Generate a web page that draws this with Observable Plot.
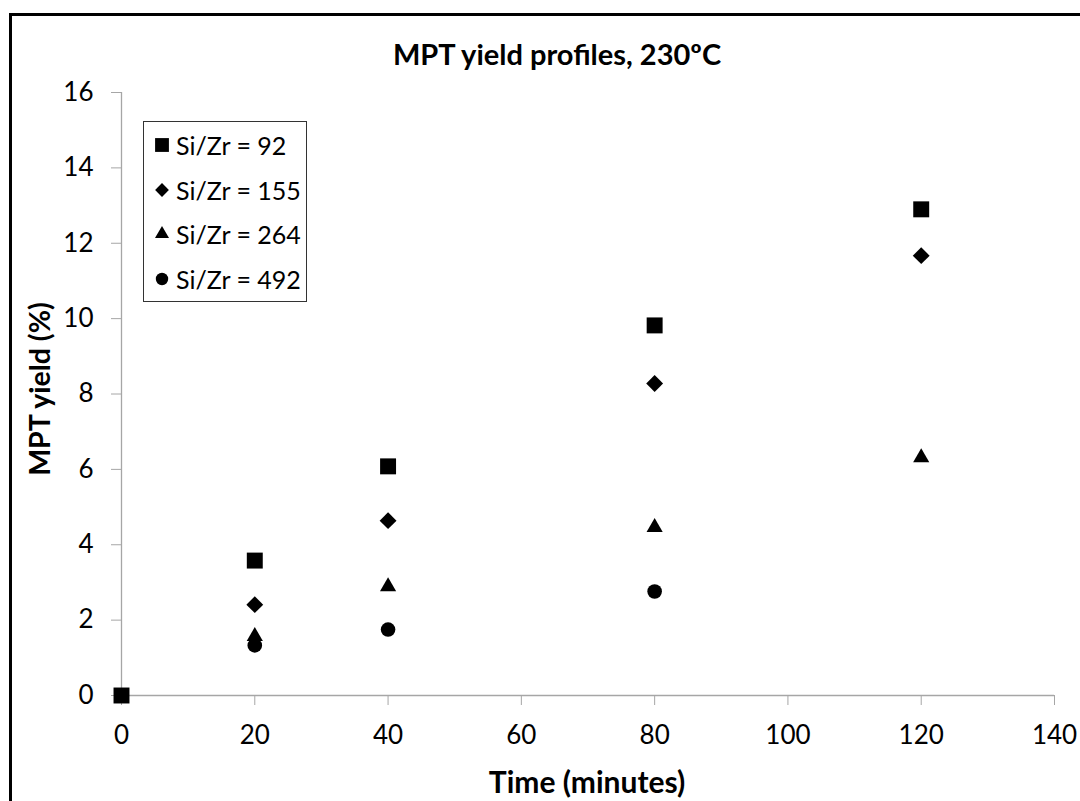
<!DOCTYPE html>
<html>
<head>
<meta charset="utf-8">
<script src="https://cdn.jsdelivr.net/npm/d3@7"></script>
<script src="https://cdn.jsdelivr.net/npm/@observablehq/plot@0.6"></script>
<style>
  html, body { margin: 0; padding: 0; background: #fff; overflow: hidden; }
  #wrap { position: relative; width: 1080px; height: 801px; overflow: hidden; font-family: Lato, "Open Sans", sans-serif; color: #000; }
  #frame { position: absolute; left: 9px; top: 13px; width: 1200px; height: 900px; border: 3px solid #000; box-sizing: border-box; }
  #chart { position: absolute; left: 0; top: 0; }
  .title { position: absolute; left: 0; width: 1114px; top: 36px; text-align: center; font-weight: bold; font-size: 29px; }
  .xlabel { position: absolute; left: 0; width: 1174px; top: 763px; text-align: center; font-weight: bold; font-size: 30px; }
  .ylabel { position: absolute; left: 39px; top: 389px; transform: translate(-50%, -50%) rotate(-90deg); white-space: nowrap; font-weight: bold; font-size: 28.5px; }
  #legend { position: absolute; left: 143px; top: 121px; width: 164px; height: 181px; border: 1.5px solid #333; box-sizing: border-box; background: #fff; }
  .item { position: absolute; left: 0; height: 30px; display: flex; align-items: center; font-size: 25px; }
  .item svg { margin-left: 9px; margin-right: 5px; }
</style>
</head>
<body>
<div id="wrap">
  <div id="frame"></div>
  <div id="chart"></div>
  <div class="title">MPT yield profiles, 230ºC</div>
  <div class="xlabel">Time (minutes)</div>
  <div class="ylabel">MPT yield (%)</div>
  <div id="legend"></div>
</div>
<script>
// Reaction time (minutes) at which MPT yield was sampled
const times = [0, 20, 40, 80, 120];

// MPT yield (%) for each catalyst Si/Zr ratio; null = not measured
const yield92  = [0, 3.58, 6.08, 9.82, 12.9];
const yield155 = [null, 2.41, 4.64, 8.28, 11.67];
const yield264 = [null, 1.57, 2.89, 4.46, 6.31];
const yield492 = [null, 1.33, 1.75, 2.76, null];

const seriesLabels = ["Si/Zr = 92", "Si/Zr = 155", "Si/Zr = 264", "Si/Zr = 492"];
const seriesValues = [yield92, yield155, yield264, yield492];
const seriesSymbols = ["square", "diamond2", "triangle", "circle"];
const seriesRadius = [9.0, 7.6, 6.0, 7.3];

const rows = (vals) => times.map((t, i) => ({time: t, value: vals[i]})).filter(d => d.value != null);

const axisGray = "#a6a6a6";

const marks = [
  Plot.ruleY([0], {stroke: axisGray, strokeWidth: 1.3}),
  Plot.ruleX([0], {stroke: axisGray, strokeWidth: 1.3}),
  Plot.axisX({ticks: d3.range(0, 141, 20), tickSize: 10, tickPadding: 20, stroke: axisGray, fontSize: 26, label: null}),
  Plot.axisY({ticks: d3.range(0, 17, 2), tickSize: 10, tickPadding: 18, stroke: axisGray, fontSize: 26, label: null}),
  // Later series first so the Si/Zr = 92 squares sit on top
  ...seriesValues.map((vals, k) => Plot.dot(rows(vals), {
    x: "time", y: "value", symbol: () => seriesSymbols[k], r: seriesRadius[k], fill: "#000", stroke: "none"
  })).reverse()
];

const chart = Plot.plot({
  width: 1080,
  height: 801,
  marginLeft: 121,
  marginRight: 26,
  marginTop: 92,
  marginBottom: 106,
  style: {background: "transparent", fontFamily: "Lato, 'Open Sans', sans-serif", color: "#000"},
  x: {domain: [0, 140]},
  y: {domain: [0, 16]},
  symbol: {type: "identity"},
  marks
});
document.getElementById("chart").appendChild(chart);

// Legend rows with the same symbols as the plotted points
const symMap = {square: d3.symbolSquare, diamond2: d3.symbolDiamond2, triangle: d3.symbolTriangle, circle: d3.symbolCircle};
const legendR = [7.8, 6.2, 5.2, 6.2];
const legend = d3.select("#legend");
seriesLabels.forEach((label, k) => {
  const item = legend.append("div").attr("class", "item").style("top", (8 + k * 44.7) + "px");
  const svg = item.append("svg").attr("width", 18).attr("height", 18);
  svg.append("path")
    .attr("transform", "translate(9,9)")
    .attr("d", d3.symbol(symMap[seriesSymbols[k]], Math.PI * legendR[k] * legendR[k])())
    .attr("fill", "#000");
  item.append("span").text(label);
});
</script>
</body>
</html>
